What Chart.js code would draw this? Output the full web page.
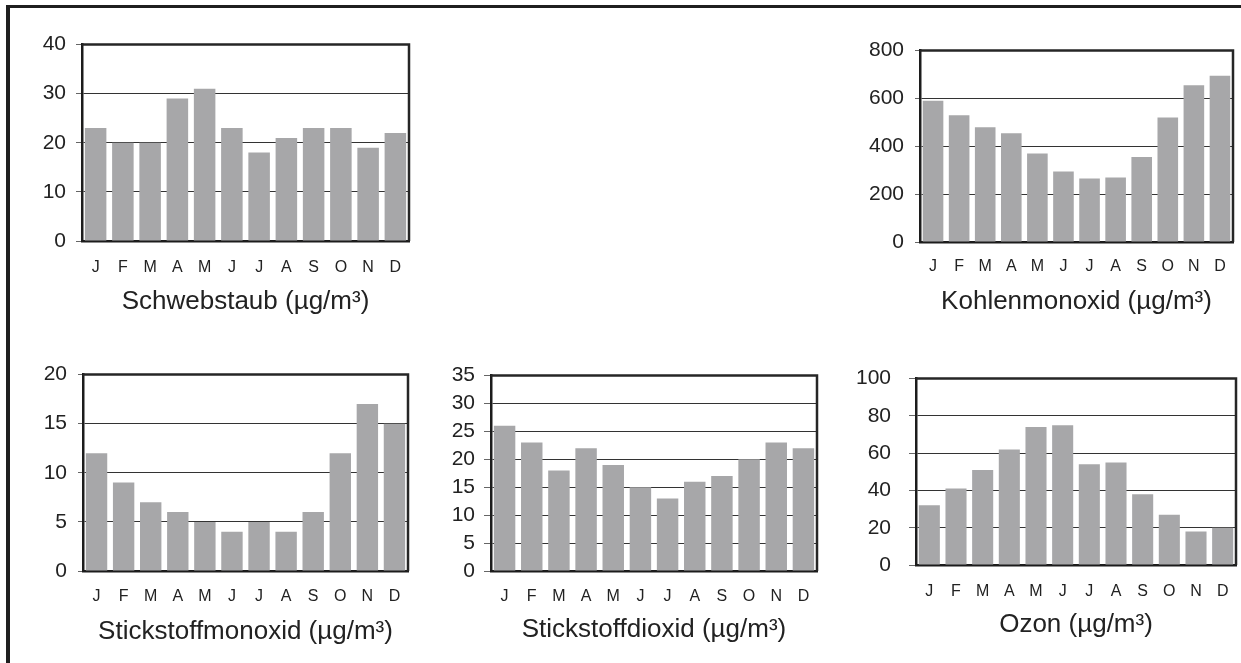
<!DOCTYPE html>
<html>
<head>
<meta charset="utf-8">
<script src="https://cdn.jsdelivr.net/npm/chart.js@4"></script>
<style>
  body { margin: 0; background: #fff; width: 1241px; height: 663px; overflow: hidden; position: relative; }
  #frame { position: absolute; left: 6px; top: 5px; width: 1300px; height: 700px;
           border-left: 4px solid #1f1f1f; border-top: 3px solid #1f1f1f; }
  canvas { position: absolute; }
</style>
</head>
<body>
<div id="frame"></div>
<canvas id="c1"></canvas>
<canvas id="c2"></canvas>
<canvas id="c3"></canvas>
<canvas id="c4"></canvas>
<canvas id="c5"></canvas>
<script>
// monthly means, one array per pollutant
const months = ['J', 'F', 'M', 'A', 'M', 'J', 'J', 'A', 'S', 'O', 'N', 'D'];
const schwebstaub = [23, 20, 20, 29, 31, 23, 18, 21, 23, 23, 19, 22];
const kohlenmonoxid = [590, 530, 480, 455, 370, 295, 265, 270, 355, 520, 655, 695];
const stickstoffmonoxid = [12, 9, 7, 6, 5, 4, 5, 4, 6, 12, 17, 15];
const stickstoffdioxid = [26, 23, 18, 22, 19, 15, 13, 16, 17, 20, 23, 22];
const ozon = [32, 41, 51, 62, 74, 75, 54, 55, 38, 27, 18, 20];

const yMax = [40, 800, 20, 35, 100];
const yStep = [10, 200, 5, 5, 20];
const titles = [
  'Schwebstaub (µg/m³)',
  'Kohlenmonoxid (µg/m³)',
  'Stickstoffmonoxid (µg/m³)',
  'Stickstoffdioxid (µg/m³)',
  'Ozon (µg/m³)'
];
const series = [schwebstaub, kohlenmonoxid, stickstoffmonoxid, stickstoffdioxid, ozon];

// plot box of each panel on the page: l/t/r/b, month row, title row, tick length, label gap
const panels = [
  { l: 82,  t: 38,  r: 409,  b: 241, monthY: 268, titleY: 302, tick: 6, gap: 10 },
  { l: 920, t: 43,  r: 1233, b: 242, monthY: 267, titleY: 302, tick: 5, gap: 11 },
  { l: 83,  t: 367, r: 408,  b: 571, monthY: 597, titleY: 632, tick: 5, gap: 11 },
  { l: 491, t: 370, r: 817,  b: 571, monthY: 597, titleY: 630, tick: 7, gap: 9 },
  { l: 916, t: 364, r: 1236, b: 565, monthY: 592, titleY: 625, tick: 7, gap: 18 }
];

const FONT = '"Liberation Sans", Arial, Helvetica, sans-serif';
const INK = '#222';

// top and right edge of the plot box
const plotFrame = {
  id: 'plotFrame',
  afterDatasetsDraw(chart) {
    const { ctx, chartArea: a } = chart;
    ctx.save();
    ctx.strokeStyle = '#262626';
    ctx.lineWidth = 2.5;
    ctx.beginPath();
    ctx.moveTo(a.left, a.top);
    ctx.lineTo(a.right, a.top);
    ctx.lineTo(a.right, a.bottom);
    ctx.stroke();
    ctx.restore();
  }
};

function drawPanel(i) {
  const p = panels[i];
  const yW = 90, padTop = 16, padRight = 6;
  const canvasBottom = p.titleY + 17;
  const canvas = document.getElementById('c' + (i + 1));
  const left = p.l - yW, top = p.t - padTop;
  canvas.width = p.r - p.l + yW + padRight;
  canvas.height = canvasBottom - top;
  canvas.style.left = left + 'px';
  canvas.style.top = top + 'px';

  new Chart(canvas.getContext('2d'), {
    type: 'bar',
    data: {
      labels: months,
      datasets: [{
        data: series[i],
        backgroundColor: '#a7a7a9',
        borderWidth: 0,
        barPercentage: 0.79,
        categoryPercentage: 1
      }]
    },
    plugins: [plotFrame],
    options: {
      responsive: false,
      animation: false,
      layout: { padding: { left: 0, top: padTop, right: padRight, bottom: 0 } },
      plugins: { legend: { display: false }, tooltip: { enabled: false } },
      scales: {
        x: {
          z: 1,
          grid: { display: false, drawTicks: false },
          border: { display: true, color: '#1c1c1c', width: 2.5 },
          ticks: {
            color: INK,
            font: { family: FONT, size: 16 },
            padding: p.monthY - p.b - 10,
            maxRotation: 0,
            autoSkip: false
          },
          title: {
            display: true,
            text: titles[i],
            color: INK,
            font: { family: FONT, size: 26 },
            padding: { top: 0, bottom: 2 }
          },
          afterFit(scale) {
            scale.height = canvasBottom - p.b;
            // the month row sits well below the axis; don't let it shrink the plot sideways
            scale.paddingLeft = 0;
            scale.paddingRight = 0;
          }
        },
        y: {
          min: 0,
          max: yMax[i],
          grid: {
            color: '#333',
            lineWidth: 1,
            drawTicks: true,
            tickLength: p.tick,
            tickColor: '#666'
          },
          border: { display: true, color: '#1c1c1c', width: 2.5 },
          ticks: {
            stepSize: yStep[i],
            autoSkip: false,
            color: INK,
            font: { family: FONT, size: 21 },
            padding: p.gap
          },
          afterFit(scale) { scale.width = yW; }
        }
      }
    }
  });
}

for (let i = 0; i < panels.length; i++) drawPanel(i);
</script>
</body>
</html>
